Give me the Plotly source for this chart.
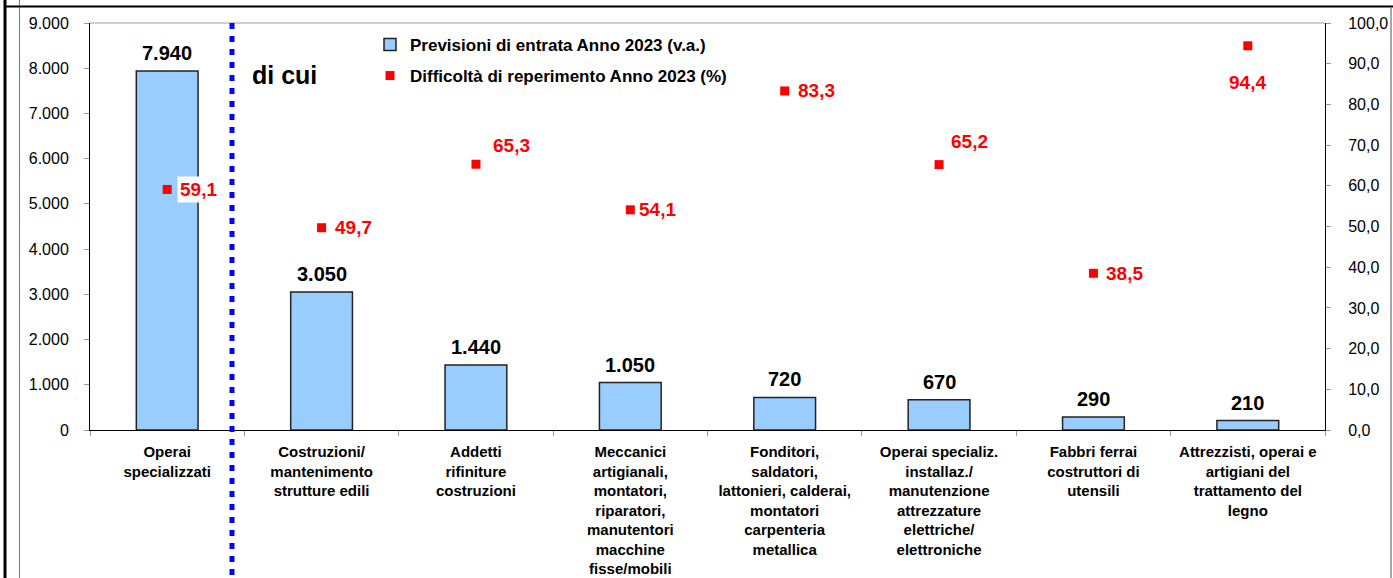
import plotly.graph_objects as go

# ---------------- data ----------------
categories = [
    "Operai<br>specializzati",
    "Costruzioni/<br>mantenimento<br>strutture edili",
    "Addetti<br>rifiniture<br>costruzioni",
    "Meccanici<br>artigianali,<br>montatori,<br>riparatori,<br>manutentori<br>macchine<br>fisse/mobili",
    "Fonditori,<br>saldatori,<br>lattonieri, calderai,<br>montatori<br>carpenteria<br>metallica",
    "Operai specializ.<br>installaz./<br>manutenzione<br>attrezzature<br>elettriche/<br>elettroniche",
    "Fabbri ferrai<br>costruttori di<br>utensili",
    "Attrezzisti, operai e<br>artigiani del<br>trattamento del<br>legno",
]
entrate = [7940, 3050, 1440, 1050, 720, 670, 290, 210]
difficolta = [59.1, 49.7, 65.3, 54.1, 83.3, 65.2, 38.5, 94.4]
left_ticks = list(range(0, 9001, 1000))
right_ticks = list(range(0, 101, 10))

name_bar = "<b>Previsioni di entrata Anno 2023 (v.a.)</b>"
name_pts = "<b>Difficoltà di reperimento Anno 2023 (%)</b>"

# ---------------- styles ----------------
FONT = "Liberation Sans, Arial, sans-serif"
# label placement relative to each marker: (xshift, yshift, xanchor)
label_place = [(10, 0, "left"), (10, 0, "left"), (14, 19, "left"), (6, 0, "left"),
               (10, 0, "left"), (9, 23, "left"), (10, 0, "left"), (0, -37, "center")]

W, H = 1393, 578
L, R, T, B = 90, 68, 23, 148
PW, PH = W - L - R, H - T - B


def px(x):
    return (x - L) / PW


def py(y):
    return (H - B - y) / PH


def fmt_thousands(v):
    return f"{v:,.0f}".replace(",", ".")


fig = go.Figure()
fig.add_trace(go.Bar(
    x=categories, y=entrate, name=name_bar, width=0.4,
    marker=dict(color="#99CCFF", line=dict(color="#222222", width=1.5)),
    cliponaxis=False, legend="legend", yaxis="y",
))
fig.add_trace(go.Scatter(
    x=categories, y=difficolta, name=name_pts, mode="markers",
    marker=dict(symbol="square", size=9, color="#FF0000"),
    cliponaxis=False, legend="legend2", yaxis="y2",
))

annotations = []
for c, v in zip(categories, entrate):
    annotations.append(dict(
        x=c, y=v, xref="x", yref="y", text="<b>" + fmt_thousands(v) + "</b>",
        showarrow=False, xanchor="center", yanchor="bottom", yshift=5,
        font=dict(family=FONT, size=20, color="black"),
    ))
for c, v, (xs, ys, xa) in zip(categories, difficolta, label_place):
    annotations.append(dict(
        x=c, y=v, xref="x", yref="y2", text="<b>" + f"{v:.1f}".replace(".", ",") + "</b>",
        showarrow=False, xanchor=xa, yanchor="middle", xshift=xs, yshift=ys,
        font=dict(family=FONT, size=19, color="#FF0000"), bgcolor="white", borderpad=2,
    ))
annotations.append(dict(
    x=px(250), y=py(75), xref="paper", yref="paper", text="<b>di cui</b>",
    showarrow=False, xanchor="left", yanchor="middle",
    font=dict(family=FONT, size=25, color="black"),
))

shapes = [
    # top border of plot area
    dict(type="line", xref="paper", yref="paper", x0=0, x1=1, y0=1, y1=1,
         line=dict(color="#A0A0A0", width=1)),
    # dotted divider
    dict(type="line", xref="paper", yref="paper", x0=px(232), x1=px(232), y0=1, y1=py(578),
         line=dict(color="#0000FF", width=5, dash="6px,7px")),
    # outer frame
    dict(type="line", xref="paper", yref="paper", x0=px(5), x1=px(5), y0=py(0), y1=py(578),
         line=dict(color="black", width=3)),
    dict(type="line", xref="paper", yref="paper", x0=px(19.5), x1=px(19.5), y0=py(0), y1=py(578),
         line=dict(color="#777777", width=1)),
    dict(type="line", xref="paper", yref="paper", x0=px(4), x1=px(1393), y0=py(6.5), y1=py(6.5),
         line=dict(color="black", width=2)),
    dict(type="line", xref="paper", yref="paper", x0=px(1391), x1=px(1391), y0=py(7), y1=py(578),
         line=dict(color="#888888", width=1.5)),
]

tickfont = dict(family=FONT, size=16, color="black")
fig.update_layout(
    width=W, height=H, margin=dict(l=L, r=R, t=T, b=B, pad=0, autoexpand=False),
    paper_bgcolor="white", plot_bgcolor="white",
    separators=",.", bargap=0.6, showlegend=True,
    font=dict(family=FONT, color="black"),
    xaxis=dict(
        type="category", showline=True, linecolor="black", linewidth=1,
        ticks="outside", tickson="boundaries", ticklen=5, tickcolor="#999999",
        showgrid=False, tickangle=0, ticklabelstandoff=8, automargin=False,
        tickfont=dict(family=FONT, size=15, color="black", weight="bold"),
    ),
    yaxis=dict(
        range=[0, 9000], tickvals=left_ticks, tickformat=",.0f",
        showline=True, linecolor="black", linewidth=1, automargin=False,
        ticks="outside", ticklen=5, tickcolor="#999999",
        showgrid=False, zeroline=False, tickfont=tickfont, ticklabelstandoff=12,
    ),
    yaxis2=dict(
        range=[0, 100], tickvals=right_ticks, tickformat=".1f",
        overlaying="y", side="right", automargin=False,
        showline=True, linecolor="black", linewidth=1,
        ticks="outside", ticklen=5, tickcolor="#999999",
        showgrid=False, zeroline=False, tickfont=tickfont, ticklabelstandoff=14,
    ),
    legend=dict(x=px(370), y=py(45), xanchor="left", yanchor="middle",
                bgcolor="rgba(0,0,0,0)", font=dict(family=FONT, size=17, color="black")),
    legend2=dict(x=px(370), y=py(76), xanchor="left", yanchor="middle",
                 bgcolor="rgba(0,0,0,0)", font=dict(family=FONT, size=17, color="black")),
    annotations=annotations, shapes=shapes,
)

fig.write_html("out.html", config={"displayModeBar": False},
               post_script="document.body.style.margin='0';")
